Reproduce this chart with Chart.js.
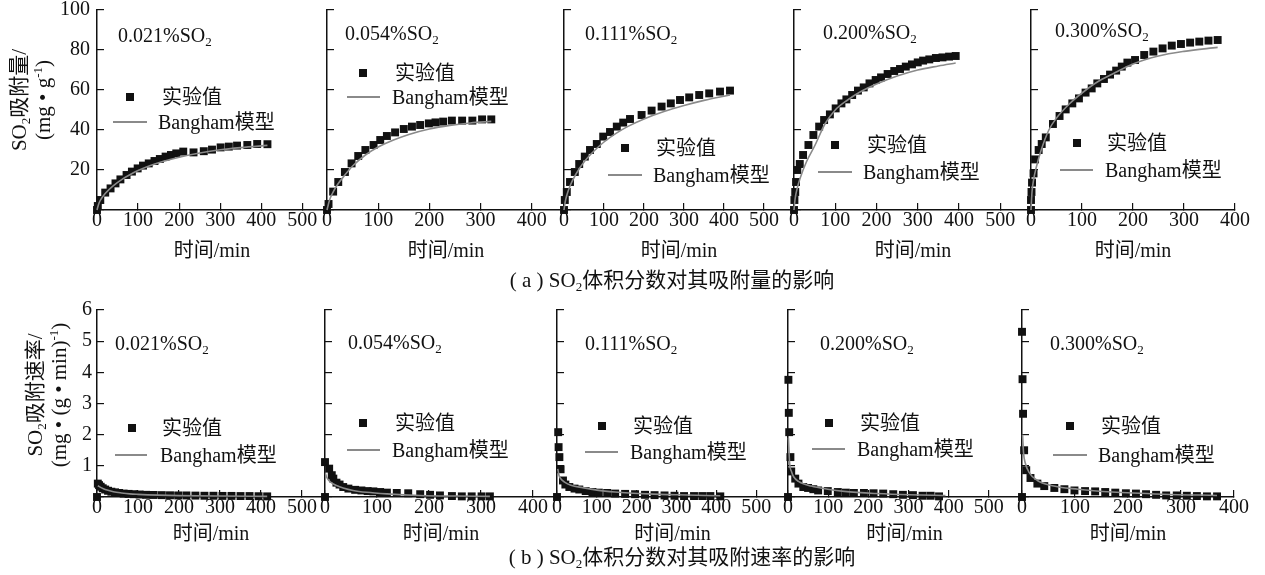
<!DOCTYPE html>
<html>
<head>
<meta charset="utf-8">
<script src="https://cdn.jsdelivr.net/npm/chart.js@4.4.1/dist/chart.umd.min.js"></script>
<style>
  body { margin: 0; background: #fff; width: 1265px; height: 575px; position: relative; overflow: hidden;
         font-family: "Liberation Serif", "Noto Sans CJK SC", serif; color: #111; }
  .box { position: absolute; }
  .txt { position: absolute; font-size: 20px; line-height: 24px; white-space: nowrap; }
  .sq { position: absolute; width: 8px; height: 8px; background: #111; }
  .ln { position: absolute; height: 2px; background: #8a8a8a; }
  sub { font-size: 13px; vertical-align: -4px; line-height: 0; }
  sup { font-size: 13px; vertical-align: 8px; line-height: 0; }
  .ytitle { position: absolute; width: 220px; margin-left: -110px; margin-top: -24px; transform: rotate(-90deg);
            text-align: center; font-size: 21px; line-height: 24px; white-space: nowrap; }
  .cap { position: absolute; width: 500px; margin-left: -250px; text-align: center; font-size: 21px; line-height: 24px; }
</style>
</head>
<body>
<script>
// SO2 volume fractions
const fractions = ['0.021', '0.054', '0.111', '0.200', '0.300'];

// (a) adsorption amount, mg/g - experiment
const ampT1 = [0, 2, 8, 20, 33, 45, 57, 72, 85, 99, 112, 126, 140, 153, 167, 180, 193, 210, 235, 260, 280, 301, 321, 341, 366, 390, 415];
const ampQ1 = [0, 2, 5, 8.7, 10.8, 13.3, 15.3, 17.5, 19.2, 20.8, 22.2, 23.3, 24.5, 25.5, 26.7, 27.5, 28.3, 29.2, 28.8, 29.4, 30.2, 31.3, 31.7, 32.2, 32.5, 33, 32.9];
const ampT2 = [0, 3, 12, 22, 35, 48, 61, 75, 91, 104, 117, 133, 150, 166, 182, 199, 212, 227, 244, 264, 284, 303, 321];
const ampQ2 = [0, 3, 9.2, 14, 19, 23.3, 27, 30, 32.5, 35, 37, 38.8, 40.5, 41.7, 42.5, 43.3, 43.8, 44.2, 44.7, 44.7, 44.7, 45.3, 45.3];
const ampT3 = [0, 2, 7, 15, 27, 38, 52, 65, 82, 98, 115, 132, 148, 165, 194, 219, 244, 267, 290, 313, 338, 363, 390, 415];
const ampQ3 = [0, 5, 9, 14, 19, 23, 26.7, 30, 33, 36.7, 39, 41.7, 43.7, 45.5, 47.5, 49.7, 51.7, 53.3, 55, 56.3, 57.5, 58.3, 59.2, 59.7];
const ampT4 = [0, 1, 3, 5, 8, 14, 22, 35, 47, 61, 73, 87, 101, 115, 127, 141, 155, 169, 183, 198, 211, 227, 243, 257, 271, 286, 300, 313, 328, 344, 360, 376, 392];
const ampQ4 = [0, 5, 9, 14, 20, 23, 27.5, 32.5, 37.5, 41.7, 45, 47.8, 50.8, 53.3, 55.3, 57.5, 59.7, 61.3, 63.3, 65, 66.3, 68, 69.5, 70.5, 71.7, 72.8, 73.8, 74.7, 75.3, 76, 76.3, 76.7, 77];
const ampT5 = [0, 0, 1, 2, 5, 8, 15, 21, 29, 43, 56, 68, 81, 94, 107, 119, 130, 143, 155, 167, 178, 189, 204, 222, 240, 258, 276, 294, 312, 330, 348, 366];
const ampQ5 = [0, 5, 9, 13.7, 18.3, 25.3, 30, 33, 36.3, 43, 47, 50.3, 53.3, 55.8, 58.7, 60.8, 63.3, 65.5, 67.7, 69.7, 71.7, 73.7, 75, 77.5, 79.2, 80.8, 82.2, 83, 83.7, 84.2, 84.7, 85];

// (a) Bangham model
const fitT1 = [0, 5, 10, 20, 40, 60, 80, 100, 130, 160, 200, 250, 300, 350, 415];
const fitQ1 = [0, 3.5, 5.5, 8.3, 12.2, 15.2, 17.6, 19.7, 22.2, 24.2, 26.4, 28.5, 30.1, 31.2, 32.3];
const fitT2 = [0, 5, 10, 20, 35, 50, 75, 100, 130, 160, 200, 240, 280, 321];
const fitQ2 = [0, 5, 8, 12.5, 17.5, 22, 27.5, 31.5, 35, 37.8, 40.5, 42.3, 43.5, 44.3];
const fitT3 = [0, 3, 8, 15, 30, 50, 75, 100, 130, 160, 200, 250, 300, 350, 415];
const fitQ3 = [0, 4, 8, 12, 18, 24, 29.5, 34, 38.3, 41.8, 45.5, 49.2, 52.2, 54.8, 57.5];
const fitT4 = [0, 3, 8, 15, 30, 50, 75, 100, 130, 160, 200, 250, 300, 350, 392];
const fitQ4 = [0, 6, 11, 16, 24, 32, 43, 50, 55, 59, 63, 67, 70, 72, 73.5];
const fitT5 = [0, 2, 5, 10, 20, 35, 50, 75, 100, 130, 160, 200, 250, 300, 366];
const fitQ5 = [0, 9, 15, 21, 30, 40, 46, 53, 58.5, 64, 68, 73, 77, 79.3, 81.3];

// (b) adsorption rate, mg/(g*min) - experiment
const rateT1 = [0, 2, 5, 9, 14, 20, 27, 35, 44, 54, 65, 77, 90, 104, 120, 138, 158, 178, 198, 218, 240, 262, 284, 306, 328, 350, 372, 394, 415];
const rateV1 = [0, 0.43, 0.38, 0.33, 0.28, 0.24, 0.2, 0.17, 0.15, 0.13, 0.11, 0.1, 0.09, 0.08, 0.07, 0.065, 0.06, 0.055, 0.05, 0.05, 0.045, 0.04, 0.04, 0.035, 0.035, 0.03, 0.03, 0.025, 0.02];
const rateT2 = [0, 0, 8, 13, 16, 22, 28, 35, 45, 58, 70, 82, 93, 106, 119, 138, 160, 183, 202, 221, 244, 263, 282, 301, 317];
const rateV2 = [0, 1.12, 0.91, 0.7, 0.59, 0.46, 0.4, 0.32, 0.27, 0.23, 0.21, 0.19, 0.18, 0.16, 0.14, 0.13, 0.12, 0.09, 0.07, 0.05, 0.03, 0.02, 0.02, 0.02, 0.02];
const rateT3 = [0, 3, 4, 6, 9, 15, 21, 31, 44, 56, 72, 89, 105, 126, 146, 171, 196, 221, 245, 270, 295, 319, 344, 365, 385, 410];
const rateV3 = [0, 2.08, 1.6, 1.28, 0.89, 0.53, 0.4, 0.32, 0.27, 0.24, 0.19, 0.16, 0.14, 0.13, 0.11, 0.1, 0.09, 0.07, 0.06, 0.05, 0.04, 0.03, 0.03, 0.03, 0.03, 0.02];
const rateT4 = [0, 1, 2, 3, 6, 8, 18, 26, 38, 50, 63, 75, 99, 124, 144, 164, 189, 213, 237, 262, 286, 311, 335, 355, 376];
const rateV4 = [0, 3.76, 2.7, 2.08, 1.28, 0.82, 0.59, 0.43, 0.32, 0.29, 0.25, 0.21, 0.19, 0.16, 0.14, 0.13, 0.13, 0.12, 0.11, 0.09, 0.07, 0.06, 0.04, 0.04, 0.02];
const rateT5 = [0, 0, 1, 2, 4, 8, 16, 29, 42, 61, 80, 99, 119, 138, 157, 176, 196, 215, 234, 253, 272, 292, 311, 330, 349, 368];
const rateV5 = [0, 5.3, 3.78, 2.67, 1.5, 0.86, 0.61, 0.43, 0.35, 0.29, 0.25, 0.21, 0.19, 0.18, 0.16, 0.14, 0.12, 0.11, 0.09, 0.07, 0.05, 0.05, 0.04, 0.03, 0.02, 0.02];

// (b) Bangham model
const rfitT1 = [2, 10, 20, 40, 60, 80, 100, 150, 200, 300, 415];
const rfitV1 = [0.36, 0.3, 0.24, 0.17, 0.13, 0.1, 0.085, 0.06, 0.045, 0.03, 0.02];
const rfitT2 = [1, 3, 8, 15, 22, 35, 54, 80, 119, 183, 250, 317];
const rfitV2 = [0.75, 0.64, 0.52, 0.43, 0.37, 0.29, 0.21, 0.15, 0.1, 0.05, 0.03, 0.02];
const rfitT3 = [2, 5, 10, 19, 35, 64, 100, 146, 229, 300, 410];
const rfitV3 = [0.9, 0.7, 0.58, 0.48, 0.38, 0.3, 0.22, 0.16, 0.1, 0.07, 0.04];
const rfitT4 = [1, 4, 9, 14, 26, 58, 99, 140, 221, 302, 392];
const rfitV4 = [1.9, 1.1, 0.8, 0.65, 0.5, 0.35, 0.25, 0.18, 0.11, 0.07, 0.05];
const rfitT5 = [1, 3, 6, 13, 29, 55, 106, 170, 266, 368];
const rfitV5 = [2.0, 1.4, 1.1, 0.8, 0.53, 0.37, 0.25, 0.16, 0.09, 0.05];

// axis ranges
const xMaxA = [560, 465, 575, 577, 400];
const xMaxB = [556, 446, 580, 580, 400];

// ---------------- layout (pixels) ----------------
const FONT = "'Liberation Serif', 'Noto Sans CJK SC', serif";
const rowA = { T: 10, B: 210, padB: 60, yMax: 100, step: 20, yPad: 14,
  L: [97, 327, 564, 794, 1031], R: [327, 565, 794, 1032, 1235] };
const rowB = { T: 310, B: 497, padB: 56, yMax: 6, step: 1, yPad: 12,
  L: [97, 325, 557, 788, 1022], R: [325, 557, 788, 1021, 1234] };

const pts = (xs, ys) => xs.map((x, i) => ({ x: x, y: ys[i] }));

function makePanel(row, i, xMax, expX, expY, fitX, fitY) {
  // padT must exceed half a tick label + tick padding, or Chart.js pushes the plot down
  const padL = 50, padR = 30, padT = 32, padB = row.padB;
  const L = row.L[i], R = row.R[i];
  const W = padL + (R - L) + padR;
  const H = padT + (row.B - row.T) + padB;
  const div = document.createElement('div');
  div.className = 'box';
  div.style.left = (L - padL) + 'px';
  div.style.top = (row.T - padT) + 'px';
  const cv = document.createElement('canvas');
  cv.width = W; cv.height = H;
  cv.style.width = W + 'px'; cv.style.height = H + 'px';
  div.appendChild(cv);
  document.body.appendChild(div);

  const axisGrid = { display: true, drawOnChartArea: false, drawTicks: true, tickLength: -7, color: '#111', lineWidth: 1.2 };
  new Chart(cv, {
    type: 'scatter',
    data: {
      datasets: [
        { data: pts(fitX, fitY), showLine: true, pointRadius: 0, borderColor: '#8a8a8a', borderWidth: 1.6,
          cubicInterpolationMode: 'monotone', clip: false },
        { data: pts(expX, expY), pointStyle: 'rect', pointRadius: 5.6, backgroundColor: '#111',
          borderColor: '#111', borderWidth: 0, clip: false }
      ]
    },
    options: {
      responsive: false, animation: false, devicePixelRatio: 1,
      layout: { padding: { left: 0, right: padR, top: padT, bottom: 0 } },
      plugins: { legend: { display: false }, tooltip: { enabled: false } },
      scales: {
        x: {
          type: 'linear', min: 0, max: xMax,
          afterFit: s => { s.height = padB; },
          border: { color: '#111', width: 1.5 },
          grid: axisGrid,
          ticks: { stepSize: 100, includeBounds: false, maxRotation: 0, autoSkip: false, padding: 6,
                   color: '#111', font: { family: FONT, size: 20 } },
          title: { display: true, text: '时间/min', color: '#111', font: { family: FONT, size: 20 },
                   padding: { top: 0, bottom: 6 } }
        },
        y: {
          type: 'linear', min: 0, max: row.yMax,
          afterFit: s => { s.width = padL; },
          border: { color: '#111', width: 1.5 },
          grid: axisGrid,
          ticks: { stepSize: row.step, includeBounds: false, padding: row.yPad, color: '#111',
                   font: { family: FONT, size: 20 },
                   callback: v => (i === 0 && v !== 0) ? v : '' }
        }
      }
    }
  });
}

const ampT = [ampT1, ampT2, ampT3, ampT4, ampT5], ampQ = [ampQ1, ampQ2, ampQ3, ampQ4, ampQ5];
const fitT = [fitT1, fitT2, fitT3, fitT4, fitT5], fitQ = [fitQ1, fitQ2, fitQ3, fitQ4, fitQ5];
const rateT = [rateT1, rateT2, rateT3, rateT4, rateT5], rateV = [rateV1, rateV2, rateV3, rateV4, rateV5];
const rfitT = [rfitT1, rfitT2, rfitT3, rfitT4, rfitT5], rfitV = [rfitV1, rfitV2, rfitV3, rfitV4, rfitV5];

for (let i = 0; i < 5; i++) {
  makePanel(rowA, i, xMaxA[i], ampT[i], ampQ[i], fitT[i], fitQ[i]);
  makePanel(rowB, i, xMaxB[i], rateT[i], rateV[i], rfitT[i], rfitV[i]);
}

// ---------------- text overlays ----------------
function addHTML(cls, x, y, html) {
  const d = document.createElement('div');
  d.className = cls;
  d.style.left = x + 'px';
  d.style.top = y + 'px';
  d.innerHTML = html;
  document.body.appendChild(d);
  return d;
}

const tagPos = [[118, 35], [345, 33], [585, 33], [823, 32], [1055, 30],
                [115, 343], [348, 342], [585, 343], [820, 343], [1050, 343]];
tagPos.forEach((p, k) => {
  addHTML('txt', p[0], p[1] - 12, fractions[k % 5] + '%SO<sub>2</sub>');
});

// legend: square centre, text x, line x1..x2 and y, text x
const legPos = [
  [130, 97, 162, 113, 147, 122, 158], [363, 73, 395, 347, 380, 97, 392], [625, 148, 656, 608, 642, 175, 653],
  [835, 145, 867, 818, 852, 172, 863], [1077, 143, 1107, 1060, 1093, 170, 1105],
  [132, 428, 162, 115, 147, 455, 160], [363, 423, 395, 347, 380, 450, 392], [602, 426, 633, 585, 618, 452, 630],
  [829, 423, 860, 812, 845, 449, 857], [1070, 426, 1101, 1053, 1087, 455, 1098]
];
legPos.forEach(p => {
  addHTML('sq', p[0] - 4, p[1] - 4, '');
  addHTML('txt', p[2], p[1] - 12, '实验值');
  const ln = addHTML('ln', p[3], p[5] - 1, '');
  ln.style.width = (p[4] - p[3]) + 'px';
  addHTML('txt', p[6], p[5] - 12, 'Bangham模型');
});

addHTML('ytitle', 31, 100, 'SO<sub>2</sub>吸附量/<br>(mg • g<sup>-1</sup>)');
addHTML('ytitle', 47, 395, 'SO<sub>2</sub>吸附速率/<br>(mg • (g • min)<sup>-1</sup>)');

addHTML('cap', 672, 268, '( a ) SO<sub>2</sub>体积分数对其吸附量的影响');
addHTML('cap', 682, 545, '( b ) SO<sub>2</sub>体积分数对其吸附速率的影响');
</script>
</body>
</html>
